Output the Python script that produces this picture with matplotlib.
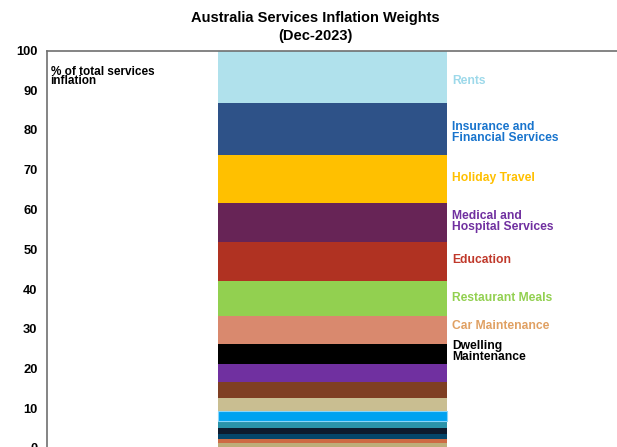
import matplotlib
matplotlib.use("Agg")
import matplotlib.pyplot as plt
import numpy as np

plt.rcParams['font.family'] = ['Liberation Sans', 'DejaVu Sans']
plt.rcParams['font.weight'] = 'bold'

# segments from bottom to top (% of total services inflation)
weights = [1.2, 1.0, 1.3, 1.5, 1.8, 2.4, 3.3, 4.0, 4.7, 5.0,
           7.0, 8.9, 9.8, 9.8, 12.1, 12.9, 13.3]
colors = ['#BDAE7A', '#CD6B45', '#05456A', '#0D1A2E', '#2A93AA', '#00A2F0',
          '#C9BE91', '#7F3F23', '#7030A0', '#000000',
          '#D9896E', '#92D050', '#B03222', '#672456', '#FFC000', '#2E5288', '#B0E1EC']
labels = [None] * 9 + ['Dwelling\nMaintenance', 'Car Maintenance', 'Restaurant Meals',
                       'Education', 'Medical and\nHospital Services', 'Holiday Travel',
                       'Insurance and\nFinancial Services', 'Rents']
label_colors = [None] * 9 + ['#000000', '#E0A062', '#92D050', '#C0392B', '#7030A0',
                             '#FFC000', '#1874CD', '#9DD9EA']
label_nudge = [0] * 9 + [0.5, 1.0, 0, 0.2, 0.2, 0.3, -0.9, -1.0]

W, H = 617, 447
fig = plt.figure(figsize=(W / 100, H / 100), dpi=100)
ax_left, ax_right = 46.5, 630
ax_top, ax_bot = 50.5, 448
ax = fig.add_axes([ax_left / W, 1 - ax_bot / H, (ax_right - ax_left) / W, (ax_bot - ax_top) / H])

bar_l, bar_r = 218, 447
ppu = bar_r - bar_l
cx = (bar_l + bar_r) / 2
ax.set_xlim((ax_left - cx) / ppu, (ax_right - cx) / ppu)
ax.set_ylim(0, 100)

bottoms = np.concatenate([[0], np.cumsum(weights)[:-1]])
for i, (w, b, c) in enumerate(zip(weights, bottoms, colors)):
    hl = c == '#00A2F0'
    ax.bar(0, w, bottom=b, width=1, color=c,
           edgecolor='#8AD6FA' if hl else 'none', linewidth=0.8 if hl else 0)
    if labels[i]:
        ax.text(0.5 + 5 / ppu, b + w / 2 + label_nudge[i], labels[i], color=label_colors[i],
                fontsize=8.7, fontweight='bold', va='center', ha='left', linespacing=0.85)

ax.set_yticks(np.arange(0, 101, 10))
ax.set_xticks([])
ax.tick_params(axis='y', length=0, pad=6.5, labelsize=9.3)
for s in ['right', 'bottom']:
    ax.spines[s].set_visible(False)
for s in ['left', 'top']:
    ax.spines[s].set_color('#707070')
    ax.spines[s].set_linewidth(1.2)

ax.text(0.007, 0.962, '% of total services\ninflation', transform=ax.transAxes,
        fontsize=8.5, fontweight='bold', va='top', ha='left', linespacing=0.75)

fig.text(315 / W, 1 - 27 / H, 'Australia Services Inflation Weights\n(Dec-2023)',
         ha='center', va='center', fontsize=10.5, fontweight='bold', linespacing=1.3)

fig.savefig('out.png', dpi=100)
